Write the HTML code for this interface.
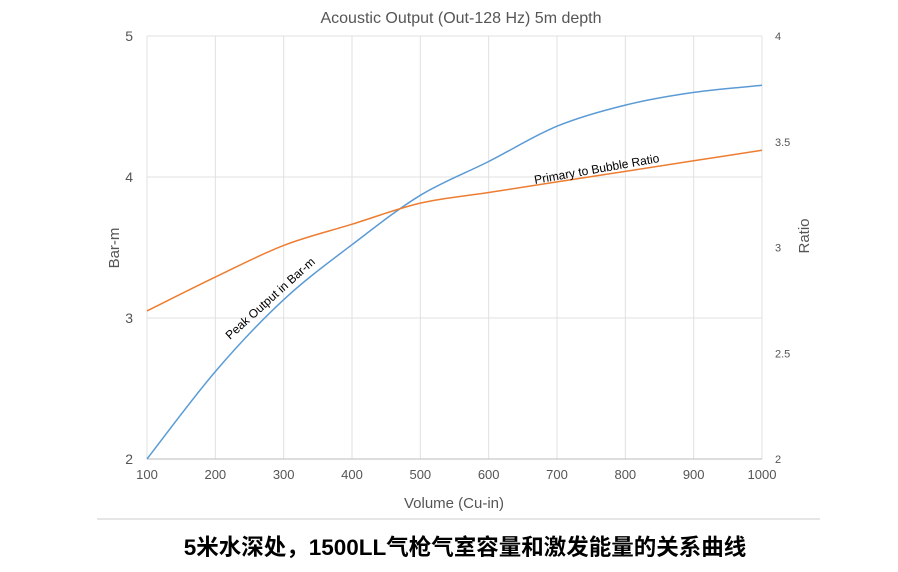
<!DOCTYPE html>
<html><head><meta charset="utf-8"><style>
body{margin:0;background:#fff;width:898px;height:567px;overflow:hidden}
text{font-family:"Liberation Sans","Noto Sans CJK SC",sans-serif}
</style></head><body>
<svg id="chart" width="898" height="567" xmlns="http://www.w3.org/2000/svg">
<text x="461" y="23" text-anchor="middle" font-size="16" fill="#555">Acoustic Output (Out-128 Hz) 5m depth</text>
<g id="grid"></g><g id="axes"></g><g id="series"></g>
<text x="454" y="508" text-anchor="middle" font-size="15" fill="#555">Volume (Cu-in)</text>
<text transform="translate(119,248) rotate(-90)" text-anchor="middle" font-size="15" fill="#555">Bar-m</text>
<text transform="translate(809,236) rotate(-90)" text-anchor="middle" font-size="15" fill="#555">Ratio</text>
<text transform="translate(230,340) rotate(-42)" font-size="12" fill="#000">Peak Output in Bar-m</text>
<text transform="translate(535,184) rotate(-10)" font-size="12" fill="#000">Primary to Bubble Ratio</text>
<line x1="97" y1="519" x2="820" y2="519" stroke="#ccc"/>
<text x="465" y="555" text-anchor="middle" font-size="22.5" font-weight="bold" fill="#000">5米水深处，1500LL气枪气室容量和激发能量的关系曲线</text>
</svg>
<script>
const xCats=[100,200,300,400,500,600,700,800,900,1000];
const peakOutput=[2.0,2.62,3.13,3.52,3.87,4.11,4.36,4.51,4.60,4.65];
const bubbleRatio=[2.70,2.86,3.01,3.11,3.21,3.26,3.31,3.36,3.41,3.46];
const leftTicks=[2,3,4,5];
const rightTicks=[2,2.5,3,3.5,4];
const NS="http://www.w3.org/2000/svg";
const X0=147,X1=762,Y0=459,Y1=36;
const xs=v=>X0+(v-100)/900*(X1-X0);
const yl=v=>Y0-(v-2)/3*(Y0-Y1);
const yr=v=>Y0-(v-2)/2*(Y0-Y1);
function mk(tag,attrs,parent){const e=document.createElementNS(NS,tag);for(const k in attrs)e.setAttribute(k,attrs[k]);document.getElementById(parent).appendChild(e);return e;}
xCats.forEach(v=>{
 const l=mk('line',{x1:xs(v),x2:xs(v),y1:Y1,y2:Y0,stroke:'#e0e0e0'},'grid');
 
 
 const t=mk('text',{x:xs(v),y:Y0+20,'text-anchor':'middle','font-size':13,fill:'#555'},'axes');
 t.textContent=v;
 
 
});
leftTicks.forEach(v=>{
 const l=mk('line',{x1:X0,x2:X1,y1:yl(v),y2:yl(v),stroke:v==2?'#bbb':'#e0e0e0'},'grid');
 
 
 const t=mk('text',{x:133,y:yl(v)+5,'text-anchor':'end','font-size':14,fill:'#555'},'axes');
 t.textContent=v;
 
 
});
rightTicks.forEach(v=>{
 const t=mk('text',{x:775,y:yr(v)+4,'font-size':11,fill:'#555'},'axes');
 t.textContent=v;
 
 
});
function path(vals,yf){
 const p=vals.map((v,i)=>[xs(xCats[i]),yf(v)]);
 let d='M'+p[0][0].toFixed(1)+','+p[0][1].toFixed(1);
 for(let i=0;i<p.length-1;i++){
  const a=p[Math.max(i-1,0)],b=p[i],c=p[i+1],e=p[Math.min(i+2,p.length-1)];
  const c1=[b[0]+(c[0]-a[0])/6,b[1]+(c[1]-a[1])/6],c2=[c[0]-(e[0]-b[0])/6,c[1]-(e[1]-b[1])/6];
  d+='C'+c1[0].toFixed(1)+','+c1[1].toFixed(1)+' '+c2[0].toFixed(1)+','+c2[1].toFixed(1)+' '+c[0].toFixed(1)+','+c[1].toFixed(1);
 }
 return d;
}
const p1=mk('path',{d:path(peakOutput,yl),fill:'none',stroke:'#5b9bd5','stroke-width':1.5},'series');


const p2=mk('path',{d:path(bubbleRatio,yr),fill:'none',stroke:'#ed7d31','stroke-width':1.5},'series');


</script>
</body></html>
